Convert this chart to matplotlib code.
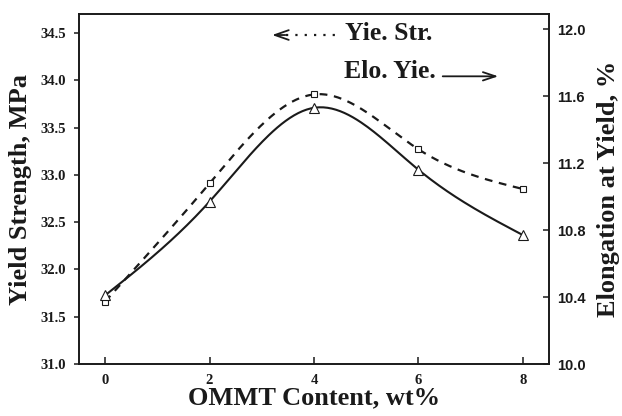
#!/usr/bin/env python
"""Yield strength / elongation at yield vs OMMT content (dual axis)."""
import matplotlib

matplotlib.use("Agg")
import matplotlib.pyplot as plt
import numpy as np

# data
ommt = [0, 2, 4, 6, 8]
yield_strength = [31.66, 32.91, 33.85, 33.27, 32.85]   # MPa, left axis
elong_yield = [10.41, 10.97, 11.53, 11.16, 10.77]      # %, right axis

left_ticks = [31.0, 31.5, 32.0, 32.5, 33.0, 33.5, 34.0, 34.5]
right_ticks = [10.0, 10.4, 10.8, 11.2, 11.6, 12.0]
x_ticks = [0, 2, 4, 6, 8]

SERIF = ["Liberation Serif", "DejaVu Serif"]
SANS = ["Liberation Sans", "DejaVu Sans"]
INK = "#1a1a1a"


def natural_spline(x, y, n=200):
    # smooth curve through the points, like the original plotting program did
    x = np.asarray(x, float)
    y = np.asarray(y, float)
    k = len(x)
    h = np.diff(x)
    A = np.zeros((k, k))
    b = np.zeros(k)
    A[0, 0] = A[-1, -1] = 1
    for i in range(1, k - 1):
        A[i, i - 1] = h[i - 1]
        A[i, i] = 2 * (h[i - 1] + h[i])
        A[i, i + 1] = h[i]
        b[i] = 6 * ((y[i + 1] - y[i]) / h[i] - (y[i] - y[i - 1]) / h[i - 1])
    m = np.linalg.solve(A, b)
    xs = np.linspace(x[0], x[-1], n)
    idx = np.clip(np.searchsorted(x, xs) - 1, 0, k - 2)
    x0, x1 = x[idx], x[idx + 1]
    hh = x1 - x0
    t0, t1 = x1 - xs, xs - x0
    ys = (m[idx] * t0 ** 3 + m[idx + 1] * t1 ** 3) / (6 * hh) \
        + (y[idx] / hh - m[idx] * hh / 6) * t0 \
        + (y[idx + 1] / hh - m[idx + 1] * hh / 6) * t1
    return xs, ys


fig = plt.figure(figsize=(6.22, 4.16), dpi=100)
ax = fig.add_axes([0.127, 0.125, 0.7556, 0.8413])
ax2 = ax.twinx()

xs, ys = natural_spline(ommt, yield_strength)
ax.plot(xs, ys, color=INK, lw=1.6, ls=(0, (3.5, 3)), zorder=2)
ax.plot(ommt, yield_strength, ls="none", marker="s", ms=5, mfc="white",
        mec=INK, mew=0.8, zorder=3)

xs, ys = natural_spline(ommt, elong_yield)
ax2.plot(xs, ys, color=INK, lw=1.5, zorder=2)
ax2.plot(ommt, elong_yield, ls="none", marker="^", ms=7, mfc="white",
         mec=INK, mew=0.8, zorder=3)

ax.set_xlim(-0.5, 8.5)
ax.set_ylim(31.0, 34.7)
ax2.set_ylim(10.0, 12.09)
ax.set_xticks(x_ticks)
ax.set_yticks(left_ticks)
ax2.set_yticks(right_ticks)
ax.set_xticklabels([str(v) for v in x_ticks], family=SERIF, weight="bold", fontsize=10.5)
ax.set_yticklabels([f"{v:.1f}" for v in left_ticks], family=SERIF, weight="bold", fontsize=10.5)
ax2.set_yticklabels([f"{v:.1f}" for v in right_ticks], family=SANS, weight="bold", fontsize=10.5)

ax.tick_params(axis="x", direction="in", length=5, width=1.1, pad=7, colors=INK)
ax.tick_params(axis="y", direction="out", length=3.5, width=1.1, pad=6, colors=INK)
ax2.tick_params(axis="y", direction="in", length=4, width=1.1, pad=6, colors=INK)
for a in (ax, ax2):
    for s in a.spines.values():
        s.set_linewidth(1.2)
        s.set_color(INK)

ax.set_xlabel("OMMT Content, wt%", family=SERIF, weight="bold", fontsize=19,
              color=INK, labelpad=0)
ax.set_ylabel("Yield Strength, MPa", family=SERIF, weight="bold", fontsize=19,
              color=INK, labelpad=6)
ax2.set_ylabel("Elongation at Yield, %", family=SERIF, weight="bold", fontsize=19,
               color=INK, labelpad=8)

# in-plot key: dotted arrow to the left axis, solid arrow to the right axis
ax.text(0.566, 0.943, "Yie. Str.", transform=ax.transAxes, family=SERIF,
        weight="bold", fontsize=18.5, va="center", ha="left", color=INK)
ax.plot([0.44, 0.555], [0.94, 0.94], transform=ax.transAxes, color=INK,
        lw=1.6, ls=(0, (1, 3.2)), clip_on=False)
ax.annotate("", xy=(0.405, 0.94), xytext=(0.445, 0.94), xycoords="axes fraction",
            arrowprops=dict(arrowstyle="->,head_length=1.0,head_width=0.35", lw=1.3, color=INK))
ax.text(0.564, 0.836, "Elo. Yie.", transform=ax.transAxes, family=SERIF,
        weight="bold", fontsize=18.5, va="center", ha="left", color=INK)
ax.annotate("", xy=(0.898, 0.822), xytext=(0.768, 0.822), xycoords="axes fraction",
            arrowprops=dict(arrowstyle="->,head_length=0.9,head_width=0.3", lw=1.3, color=INK))

fig.savefig("out.png", dpi=100)
plt.close(fig)
